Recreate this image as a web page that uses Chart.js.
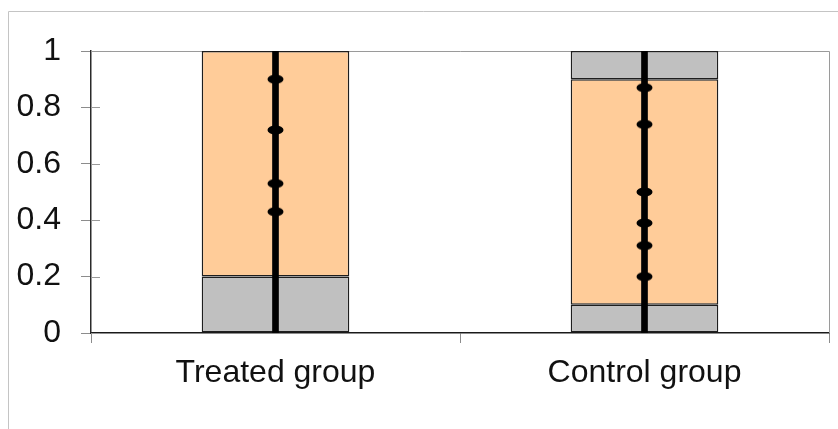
<!DOCTYPE html>
<html>
<head>
<meta charset="utf-8">
<script src="https://cdn.jsdelivr.net/npm/chart.js@4/dist/chart.umd.min.js"></script>
<style>
  html, body { margin: 0; padding: 0; background: #ffffff; }
  #wrap { width: 838px; height: 429px; }
</style>
</head>
<body>
<div id="wrap"><canvas id="chart" width="838" height="429"></canvas></div>
<script>
// Groups and the share of each segment in every bar
const categories = ['Treated group', 'Control group'];
const lowerShare = [0.2, 0.1];
const middleShare = [0.8, 0.8];
const upperShare = [0, 0.1];

// Individual observations marked along each bar's spine
const treatedPoints = [0.90, 0.72, 0.53, 0.43];
const controlPoints = [0.87, 0.74, 0.50, 0.39, 0.31, 0.20];

// Value axis tick labels
const yTicks = [0, 0.2, 0.4, 0.6, 0.8, 1];

const totals = categories.map((_, i) => lowerShare[i] + middleShare[i] + upperShare[i]);
const lowerRange = categories.map((_, i) => [0, lowerShare[i]]);
const middleRange = categories.map((_, i) => [lowerShare[i], lowerShare[i] + middleShare[i]]);
const upperRange = categories.map((_, i) =>
  upperShare[i] > 0 ? [lowerShare[i] + middleShare[i], totals[i]] : null);
const spineRange = categories.map((_, i) => [0, totals[i]]);

// Elliptical marker for the observation dots
const dot = document.createElement('canvas');
dot.width = 17; dot.height = 10;
(function () {
  const c = dot.getContext('2d');
  c.fillStyle = '#000';
  c.beginPath();
  c.ellipse(8.5, 5, 8, 4.6, 0, 0, Math.PI * 2);
  c.fill();
})();

const segmentStyle = {
  type: 'bar',
  borderColor: '#1e1e1e',
  borderWidth: 1.5,
  borderSkipped: false,
  barPercentage: 0.4,
  categoryPercentage: 1,
  order: 3
};

const labelFont = { family: '"Liberation Sans", Arial, sans-serif', size: 32 };

const frame = {
  id: 'frame',
  beforeDraw(chart) {
    const ctx = chart.ctx;
    ctx.save();
    ctx.strokeStyle = '#c4c4c4';
    ctx.lineWidth = 1;
    ctx.beginPath();
    ctx.moveTo(8.5, chart.height + 5);
    ctx.lineTo(8.5, 11.5);
    ctx.lineTo(chart.width + 5, 11.5);
    ctx.stroke();
    ctx.restore();
  },
  beforeDatasetsDraw(chart) {
    const ctx = chart.ctx;
    const a = chart.chartArea;
    const y = chart.scales.y;
    ctx.save();
    ctx.strokeStyle = '#9a9a9a';
    ctx.lineWidth = 1;
    ctx.beginPath();
    ctx.moveTo(a.left, Math.round(a.top) + 0.5);
    ctx.lineTo(Math.round(a.right) + 0.5, Math.round(a.top) + 0.5);
    ctx.lineTo(Math.round(a.right) + 0.5, a.bottom);
    ctx.stroke();
    // inner halves of the value-axis tick marks
    ctx.beginPath();
    y.ticks.forEach(t => {
      const py = Math.round(y.getPixelForValue(t.value)) + 0.5;
      ctx.moveTo(a.left, py);
      ctx.lineTo(a.left + 9, py);
    });
    ctx.stroke();
    ctx.restore();
  }
};

new Chart(document.getElementById('chart'), {
  data: {
    labels: categories,
    datasets: [
      Object.assign({ label: 'Lower', data: lowerRange, backgroundColor: '#c0c0c0' }, segmentStyle),
      Object.assign({ label: 'Middle', data: middleRange, backgroundColor: '#ffcc99' }, segmentStyle),
      Object.assign({ label: 'Upper', data: upperRange, backgroundColor: '#c0c0c0' }, segmentStyle),
      {
        type: 'bar', label: 'Spine', data: spineRange,
        backgroundColor: '#000000', borderWidth: 0,
        barThickness: 6, order: 2
      },
      {
        type: 'line', label: categories[0], showLine: false,
        data: treatedPoints.map(v => ({ x: categories[0], y: v })),
        pointStyle: dot, pointRadius: 6, order: 1
      },
      {
        type: 'line', label: categories[1], showLine: false,
        data: controlPoints.map(v => ({ x: categories[1], y: v })),
        pointStyle: dot, pointRadius: 6, order: 1
      }
    ]
  },
  options: {
    responsive: false,
    animation: false,
    devicePixelRatio: 1,
    layout: { padding: { top: 51, right: 9, left: 0, bottom: 0 } },
    plugins: { legend: { display: false }, tooltip: { enabled: false } },
    scales: {
      x: {
        type: 'category',
        stacked: true,
        offset: true,
        border: { display: true, color: '#1a1a1a', width: 1.5 },
        grid: { offset: true, drawOnChartArea: false, drawTicks: true, tickLength: 10, color: '#8c8c8c' },
        ticks: { color: '#111111', padding: 11, font: labelFont },
        afterFit(scale) { scale.height = 96; }
      },
      y: {
        stacked: false,
        min: 0, max: 1,
        border: { display: true, color: '#2a2a2a', width: 1.5 },
        grid: { drawOnChartArea: false, drawTicks: true, tickLength: 10, color: '#8c8c8c' },
        afterBuildTicks(scale) { scale.ticks = yTicks.map(v => ({ value: v })); },
        ticks: {
          color: '#111111', padding: 20, font: labelFont,
          callback: (v) => String(v)
        },
        afterFit(scale) { scale.width = 91; }
      }
    }
  },
  plugins: [frame]
});
</script>
</body>
</html>
